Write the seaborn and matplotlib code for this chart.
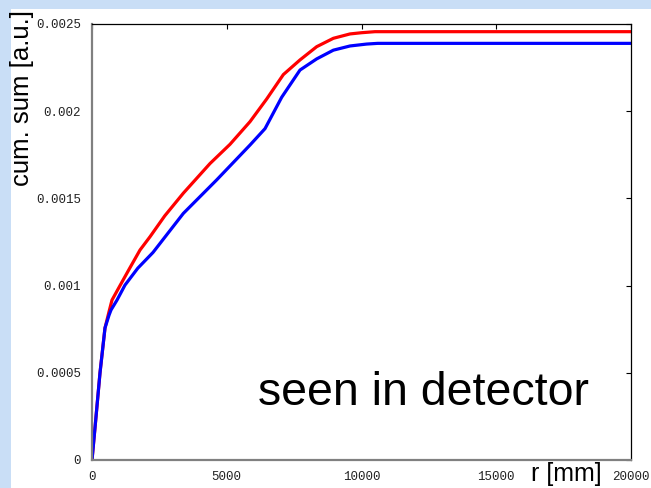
import matplotlib
matplotlib.use("Agg")
import matplotlib.pyplot as plt
from matplotlib.patches import Rectangle
import seaborn as sns
import pandas as pd

# cumulative sums
r_red = [0, 150, 297, 482, 631, 742, 1039, 1400, 1781, 2152, 2700, 3389, 4379,
         5120, 5863, 6482, 7100, 7718, 8338, 8956, 9573, 10000, 10501, 20000]
sum_red = [0, 0.00025, 0.0005, 0.000757, 0.00085, 0.000917, 0.001, 0.0011,
           0.001204, 0.00128, 0.0014, 0.00153, 0.0017, 0.00181, 0.00194,
           0.00207, 0.00221, 0.002294, 0.00237, 0.002418, 0.002443, 0.00245,
           0.002456, 0.002456]

r_blue = [0, 150, 297, 482, 631, 705, 928, 1224, 1700, 2263, 3389, 4626, 5863,
          6420, 7039, 7718, 8338, 8956, 9573, 10192, 10600, 20000]
sum_blue = [0, 0.00025, 0.0005, 0.000757, 0.00083, 0.00086, 0.000917, 0.001003,
            0.0011, 0.00119, 0.001414, 0.001606, 0.001806, 0.0019, 0.00208,
            0.002236, 0.0023, 0.00235, 0.002374, 0.002385, 0.002389, 0.002389]

xticks = [0, 5000, 10000, 15000, 20000]
yticks = [0, 0.0005, 0.001, 0.0015, 0.002, 0.0025]
yticklabels = ["0", "0.0005", "0.001", "0.0015", "0.002", "0.0025"]

df_red = pd.DataFrame({"r": r_red, "s": sum_red})
df_blue = pd.DataFrame({"r": r_blue, "s": sum_blue})

sns.set_style("white")
plt.rcParams["font.family"] = ["Liberation Sans", "DejaVu Sans"]

W, H = 651, 488
fig = plt.figure(figsize=(W / 100, H / 100), dpi=100, facecolor="#c9def6")
# white slide area
fig.patches.append(Rectangle((11 / W, 0), 1, (H - 9) / H, transform=fig.transFigure,
                             facecolor="white", edgecolor="none", zorder=-5))

ax = fig.add_axes([92 / W, (H - 460) / H, (631 - 92) / W, (460 - 24) / H])
ax.set_zorder(2)
ax.set_facecolor("white")

sns.lineplot(data=df_red, x="r", y="s", color="#ff0000", linewidth=2.3, ax=ax)
sns.lineplot(data=df_blue, x="r", y="s", color="#0000ff", linewidth=2.3, ax=ax)

ax.set_xlim(0, 20000)
ax.set_ylim(0, 0.0025)
ax.set_xticks(xticks)
ax.set_xticklabels([str(t) for t in xticks])
ax.set_yticks(yticks)
ax.set_yticklabels(yticklabels)
ax.set_xlabel("")
ax.set_ylabel("")

for side in ["left", "bottom"]:
    ax.spines[side].set_color("#808080")
    ax.spines[side].set_linewidth(1.6)
for side in ["top", "right"]:
    ax.spines[side].set_color("black")
    ax.spines[side].set_linewidth(0.9)

ax.tick_params(direction="in", length=3.5, width=0.8, color="black",
               top=True, right=True, labelsize=9, labelcolor="#222222")
ax.tick_params(axis="x", pad=8)
ax.tick_params(axis="y", pad=8)
for lab in ax.get_xticklabels() + ax.get_yticklabels():
    lab.set_fontfamily("Liberation Mono")
for lab in ax.get_xticklabels():
    lab.set_clip_on(False)

fig.text(22 / W, 1 - 10 / H, "cum. sum [a.u.]", rotation=90, ha="center", va="top",
         fontsize=18.5, color="black", zorder=3)
fig.text(531 / W, (H - 481) / H, "r [mm]", ha="left", va="baseline",
         fontsize=18, color="black", zorder=3)
fig.text(258 / W, (H - 405) / H, "seen in detector", ha="left", va="baseline",
         fontsize=33.5, color="black", zorder=3)

fig.savefig("out.png", dpi=100, facecolor=fig.get_facecolor())
